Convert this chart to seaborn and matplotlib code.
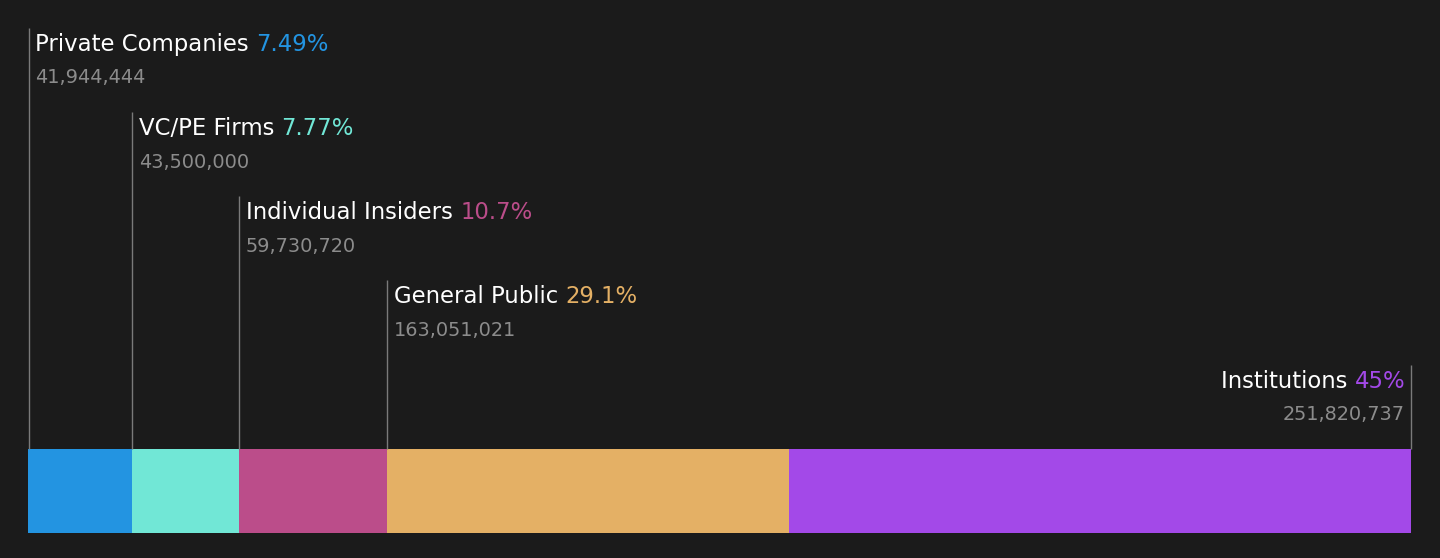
import numpy as np
import pandas as pd
import matplotlib
matplotlib.use("Agg")
import matplotlib.pyplot as plt
import seaborn as sns

categories = ["Private Companies", "VC/PE Firms", "Individual Insiders", "General Public", "Institutions"]
shares = [41944444, 43500000, 59730720, 163051021, 251820737]
pct_labels = ["7.49%", "7.77%", "10.7%", "29.1%", "45%"]
colors = ["#2394E1", "#71E7D6", "#BB4D8A", "#E4B065", "#A349E8"]

BG = "#1b1b1b"
FAM = "DejaVu Sans"
sns.set_theme(style="dark")
plt.rcParams["font.family"] = [FAM]

total = float(sum(shares))
frac = np.array(shares) / total
cum_end = np.cumsum(frac)
cum_start = cum_end - frac

df = pd.DataFrame({"cat": categories, "end": cum_end, "row": ["own"] * len(categories)})
df_draw = df.iloc[::-1].reset_index(drop=True)

W, H = 1440, 558
fig = plt.figure(figsize=(W / 100, H / 100), dpi=100, facecolor=BG)
ax = fig.add_axes([28 / W, 0, 1383 / W, 1])
ax.set_facecolor(BG)

sns.barplot(data=df_draw, x="end", y="row", hue="cat", dodge=False,
            palette=dict(zip(categories, colors)), hue_order=list(df_draw["cat"]),
            width=1.0, orient="h", legend=False, ax=ax, saturation=1,
            linewidth=0, edgecolor="none")

unit = 84.2  # px per level
bottom = 0.5 + 25 / unit
ax.set_ylim(bottom, bottom - H / unit)
ax.set_xlim(0, 1)
ax.axis("off")

BIG, SMALL = 16.4, 13.9
n = len(categories)
PT = 0.72
LBL_OFF, NUM_OFF = 23, 55.5
for i, (cat, val, pct, col) in enumerate(zip(categories, shares, pct_labels, colors)):
    level = n - i
    y_top = -0.5 - level
    last = i == n - 1
    x = cum_end[i] if last else cum_start[i]
    xl = x - 0.5 / 1383 if last else x + 0.5 / 1383
    ax.plot([xl, xl], [-0.5, y_top], color="#7a7a7a", lw=1.0, solid_capstyle="butt",
            zorder=1, clip_on=False)
    dx = -6 if last else 7
    ha = "right" if last else "left"
    if last:
        t2 = ax.annotate(pct, xy=(x, y_top), xytext=(dx * PT, -LBL_OFF * PT),
                         textcoords="offset points", ha="right", va="baseline",
                         color=col, family=FAM, fontsize=BIG)
        fig.canvas.draw()
        bb = t2.get_window_extent()
        ax.annotate(cat + " ", xy=(x, y_top), xytext=(dx * PT - bb.width * PT, -LBL_OFF * PT),
                    textcoords="offset points", ha="right", va="baseline",
                    color="#ffffff", family=FAM, fontsize=BIG)
    else:
        t1 = ax.annotate(cat + " ", xy=(x, y_top), xytext=(dx * PT, -LBL_OFF * PT),
                         textcoords="offset points", ha="left", va="baseline",
                         color="#ffffff", family=FAM, fontsize=BIG)
        fig.canvas.draw()
        bb = t1.get_window_extent()
        ax.annotate(pct, xy=(x, y_top), xytext=(dx * PT + bb.width * PT, -LBL_OFF * PT),
                    textcoords="offset points", ha="left", va="baseline",
                    color=col, family=FAM, fontsize=BIG)
    ax.annotate(f"{val:,}", xy=(x, y_top), xytext=(dx * PT, -NUM_OFF * PT),
                textcoords="offset points", ha=ha, va="baseline",
                color="#8c8c8c", family=FAM, fontsize=SMALL)

fig.savefig("out.png", dpi=100, facecolor=BG)
